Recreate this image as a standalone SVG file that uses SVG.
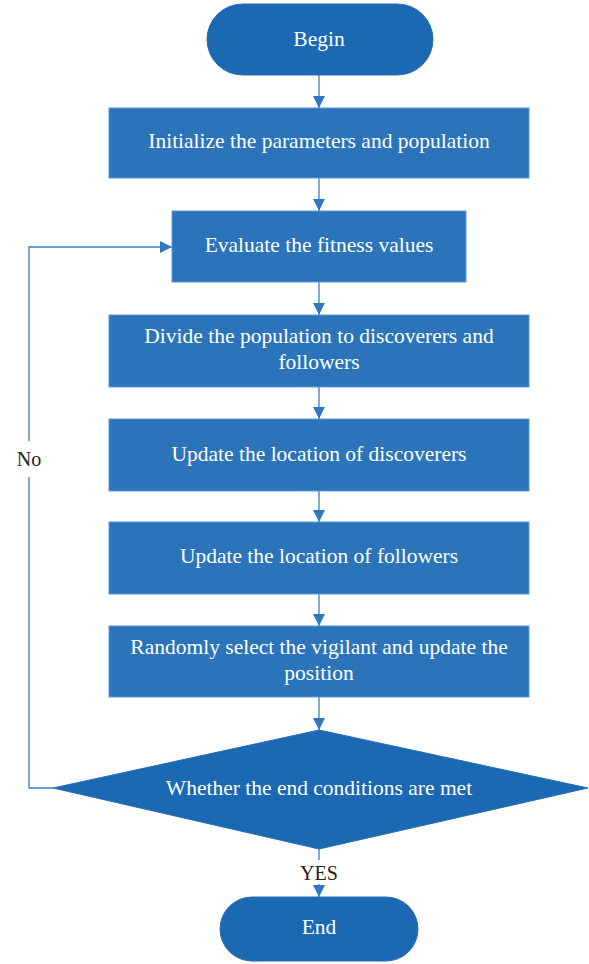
<svg xmlns="http://www.w3.org/2000/svg" width="589" height="964" viewBox="0 0 589 964">
<defs>
<style>
.term{fill:#1b68b3;stroke:#2a6db0;stroke-width:1}
.box{fill:#2b74ba;stroke:#5d9ad6;stroke-width:1}
.dia{fill:#1b68b3;stroke:#2a6db0;stroke-width:1}
.t{font-family:"Liberation Serif","Times New Roman",serif;font-size:21.5px;fill:#ffffff;text-anchor:middle}
.lbl{font-family:"Liberation Serif","Times New Roman",serif;font-size:20px;fill:#222222;text-anchor:middle}
.ln{fill:none;stroke:#3b7fc4;stroke-width:1.3}
</style>
<marker id="ah" viewBox="0 0 12 12" refX="12" refY="6" markerWidth="12" markerHeight="12" markerUnits="userSpaceOnUse" orient="auto">
<path d="M0,0 L12,6 L0,12 Z" fill="#2f78c0"/>
</marker>
</defs>
<rect width="589" height="964" fill="#ffffff"/>
<g id="connectors">
<line class="ln" x1="319" y1="75" x2="319" y2="108" marker-end="url(#ah)"/>
<line class="ln" x1="319" y1="178" x2="319" y2="211" marker-end="url(#ah)"/>
<line class="ln" x1="319" y1="282" x2="319" y2="315" marker-end="url(#ah)"/>
<line class="ln" x1="319" y1="387" x2="319" y2="419" marker-end="url(#ah)"/>
<line class="ln" x1="319" y1="491" x2="319" y2="522" marker-end="url(#ah)"/>
<line class="ln" x1="319" y1="594" x2="319" y2="626" marker-end="url(#ah)"/>
<line class="ln" x1="319" y1="697" x2="319" y2="730" marker-end="url(#ah)"/>
<line class="ln" x1="319" y1="849" x2="319" y2="860"/>
<line class="ln" x1="319" y1="884" x2="319" y2="897" marker-end="url(#ah)"/>
<polyline class="ln" points="53,788 29,788 29,477"/>
<polyline class="ln" points="29,441 29,247 172,247" marker-end="url(#ah)"/>
<text class="lbl" x="29" y="466">No</text>
<text class="lbl" x="319" y="880">YES</text>
</g>
<g id="begin">
<rect class="term" x="207" y="4" width="226" height="71" rx="35.5" ry="35.5"/>
<text class="t" x="319" y="46">Begin</text>
</g>
<g id="init">
<rect class="box" x="109" y="108" width="420" height="70"/>
<text class="t" x="319" y="148">Initialize the parameters and population</text>
</g>
<g id="evaluate">
<rect class="box" x="172" y="211" width="294" height="71"/>
<text class="t" x="319" y="252">Evaluate the fitness values</text>
</g>
<g id="divide">
<rect class="box" x="109" y="315" width="420" height="72"/>
<text class="t" x="319" y="343">Divide the population to discoverers and</text>
<text class="t" x="319" y="369">followers</text>
</g>
<g id="update-discoverers">
<rect class="box" x="109" y="419" width="420" height="72"/>
<text class="t" x="319" y="461">Update the location of discoverers</text>
</g>
<g id="update-followers">
<rect class="box" x="109" y="522" width="420" height="72"/>
<text class="t" x="319" y="563">Update the location of followers</text>
</g>
<g id="vigilant">
<rect class="box" x="109" y="626" width="420" height="71"/>
<text class="t" x="319" y="654">Randomly select the vigilant and update the</text>
<text class="t" x="319" y="680">position</text>
</g>
<g id="decision">
<polygon class="dia" points="319,730 588,788 319,849 53,788"/>
<text class="t" x="319" y="795">Whether the end conditions are met</text>
</g>
<g id="end">
<rect class="term" x="220" y="897" width="198" height="64" rx="32" ry="32"/>
<text class="t" x="319" y="934">End</text>
</g>
</svg>
